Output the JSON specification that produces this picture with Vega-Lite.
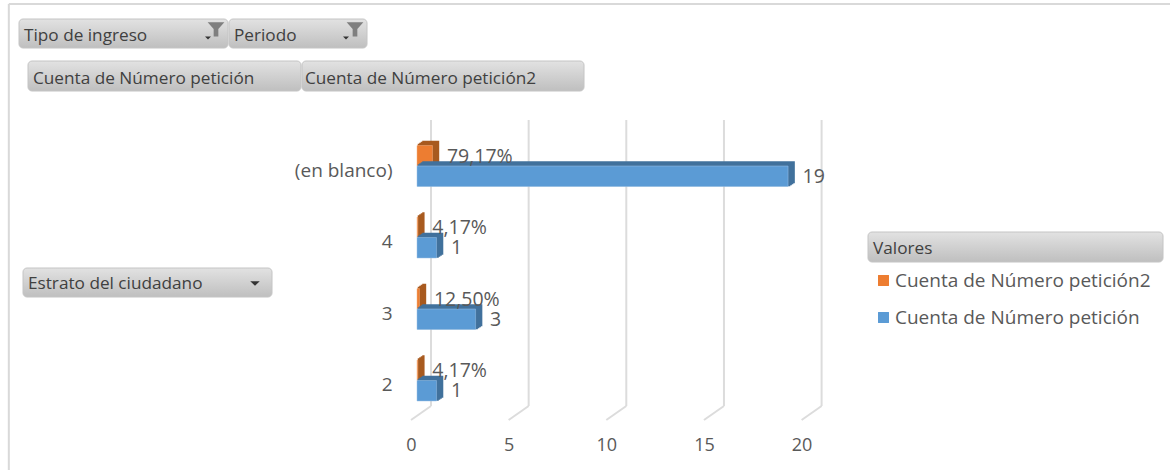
{"$schema":"https://vega.github.io/schema/vega-lite/v6.json","width":1170,"height":470,"padding":0,"autosize":"none","background":"white","config":{"view":{"stroke":null},"text":{"font":"Open Sans"}},
"datasets":{"filas":[
{"estrato":"(en blanco)","serie":"Cuenta de Número petición2","valor":0.7917,"etiqueta":"79,17%"},
{"estrato":"4","serie":"Cuenta de Número petición2","valor":0.0417,"etiqueta":"4,17%"},
{"estrato":"3","serie":"Cuenta de Número petición2","valor":0.125,"etiqueta":"12,50%"},
{"estrato":"2","serie":"Cuenta de Número petición2","valor":0.0417,"etiqueta":"4,17%"},
{"estrato":"(en blanco)","serie":"Cuenta de Número petición","valor":19,"etiqueta":"19"},
{"estrato":"4","serie":"Cuenta de Número petición","valor":1,"etiqueta":"1"},
{"estrato":"3","serie":"Cuenta de Número petición","valor":3,"etiqueta":"3"},
{"estrato":"2","serie":"Cuenta de Número petición","valor":1,"etiqueta":"1"}],
"ticks":[{"tick":0},{"tick":5},{"tick":10},{"tick":15},{"tick":20}],
"uno":[{"elemento":"controles"}]},
"resolve":{"scale":{"y":"independent"}},
"layer":[
{"data":{"name":"uno"},"layer":[
{"mark":{"type":"rule","stroke":"#d9d9d9","strokeWidth":2},"encoding":{"x":{"datum":-20.9,"type":"quantitative","title":null},"y":{"datum":4,"type":"quantitative","scale":{"domain":[470,0]},"axis":null},"y2":{"datum":470}}},
{"mark":{"type":"rule","stroke":"#d9d9d9","strokeWidth":2},"encoding":{"x":{"datum":-20.9,"type":"quantitative","title":null},"x2":{"datum":38.6},"y":{"datum":4,"type":"quantitative","scale":{"domain":[470,0]},"axis":null}}},
{"data":{"name":"ticks"},"mark":{"type":"rule","stroke":"#dcdcdc","strokeWidth":2,"xOffset":14},"encoding":{"x":{"field":"tick","type":"quantitative","title":null},"y":{"datum":120,"type":"quantitative","scale":{"domain":[470,0]},"axis":null},"y2":{"datum":406}}},
{"data":{"name":"ticks"},"mark":{"type":"rule","stroke":"#dcdcdc","strokeWidth":2,"xOffset":14,"x2Offset":-6},"encoding":{"x":{"field":"tick","type":"quantitative","title":null},"x2":{"field":"tick"},"y":{"datum":406,"type":"quantitative","scale":{"domain":[470,0]},"axis":null},"y2":{"datum":420}}},
{"mark":{"type":"rect","cornerRadius":4,"stroke":"#c4c4c4","fill":{"gradient":"linear","x1":0,"y1":0,"x2":0,"y2":1,"stops":[{"offset":0,"color":"#e2e2e2"},{"offset":1,"color":"#bfbfbf"}]}},"encoding":{"x":{"datum":-20.379,"type":"quantitative","title":null},"x2":{"datum":-9.677},"y":{"datum":19,"type":"quantitative","scale":{"domain":[470,0]},"axis":null},"y2":{"datum":48}}},
{"mark":{"type":"rect","cornerRadius":4,"stroke":"#c4c4c4","fill":{"gradient":"linear","x1":0,"y1":0,"x2":0,"y2":1,"stops":[{"offset":0,"color":"#e2e2e2"},{"offset":1,"color":"#bfbfbf"}]}},"encoding":{"x":{"datum":-9.626,"type":"quantitative","title":null},"x2":{"datum":-2.56},"y":{"datum":19,"type":"quantitative","scale":{"domain":[470,0]},"axis":null},"y2":{"datum":48}}},
{"mark":{"type":"rect","cornerRadius":4,"stroke":"#c4c4c4","fill":{"gradient":"linear","x1":0,"y1":0,"x2":0,"y2":1,"stops":[{"offset":0,"color":"#e2e2e2"},{"offset":1,"color":"#bfbfbf"}]}},"encoding":{"x":{"datum":-19.918,"type":"quantitative","title":null},"x2":{"datum":-5.94},"y":{"datum":61,"type":"quantitative","scale":{"domain":[470,0]},"axis":null},"y2":{"datum":91}}},
{"mark":{"type":"rect","cornerRadius":4,"stroke":"#c4c4c4","fill":{"gradient":"linear","x1":0,"y1":0,"x2":0,"y2":1,"stops":[{"offset":0,"color":"#e2e2e2"},{"offset":1,"color":"#bfbfbf"}]}},"encoding":{"x":{"datum":-5.888,"type":"quantitative","title":null},"x2":{"datum":8.551},"y":{"datum":61,"type":"quantitative","scale":{"domain":[470,0]},"axis":null},"y2":{"datum":91}}},
{"mark":{"type":"rect","cornerRadius":4,"stroke":"#c4c4c4","fill":{"gradient":"linear","x1":0,"y1":0,"x2":0,"y2":1,"stops":[{"offset":0,"color":"#e2e2e2"},{"offset":1,"color":"#bfbfbf"}]}},"encoding":{"x":{"datum":-20.174,"type":"quantitative","title":null},"x2":{"datum":-7.424},"y":{"datum":268,"type":"quantitative","scale":{"domain":[470,0]},"axis":null},"y2":{"datum":297}}},
{"mark":{"type":"rect","cornerRadius":4,"stroke":"#c4c4c4","fill":{"gradient":"linear","x1":0,"y1":0,"x2":0,"y2":1,"stops":[{"offset":0,"color":"#e2e2e2"},{"offset":1,"color":"#bfbfbf"}]}},"encoding":{"x":{"datum":23.093,"type":"quantitative","title":null},"x2":{"datum":38.198},"y":{"datum":232,"type":"quantitative","scale":{"domain":[470,0]},"axis":null},"y2":{"datum":262}}},
{"mark":{"type":"text","text":"Tipo de ingreso","align":"left","baseline":"middle","fontSize":17.2,"fill":"#404040"},"encoding":{"x":{"datum":-20.123,"type":"quantitative","title":null},"y":{"datum":35.5,"type":"quantitative","scale":{"domain":[470,0]},"axis":null}}},
{"mark":{"type":"text","text":"Periodo","align":"left","baseline":"middle","fontSize":17.2,"fill":"#404040"},"encoding":{"x":{"datum":-9.37,"type":"quantitative","title":null},"y":{"datum":35.5,"type":"quantitative","scale":{"domain":[470,0]},"axis":null}}},
{"mark":{"type":"text","text":"Cuenta de Número petición","align":"left","baseline":"middle","fontSize":17.2,"fill":"#404040"},"encoding":{"x":{"datum":-19.662,"type":"quantitative","title":null},"y":{"datum":78.5,"type":"quantitative","scale":{"domain":[470,0]},"axis":null}}},
{"mark":{"type":"text","text":"Cuenta de Número petición2","align":"left","baseline":"middle","fontSize":17.2,"fill":"#404040"},"encoding":{"x":{"datum":-5.735,"type":"quantitative","title":null},"y":{"datum":78.5,"type":"quantitative","scale":{"domain":[470,0]},"axis":null}}},
{"mark":{"type":"text","text":"Estrato del ciudadano","align":"left","baseline":"middle","fontSize":17.2,"fill":"#404040"},"encoding":{"x":{"datum":-19.918,"type":"quantitative","title":null},"y":{"datum":284,"type":"quantitative","scale":{"domain":[470,0]},"axis":null}}},
{"mark":{"type":"text","text":"Valores","align":"left","baseline":"middle","fontSize":17.2,"fill":"#404040"},"encoding":{"x":{"datum":23.349,"type":"quantitative","title":null},"y":{"datum":249,"type":"quantitative","scale":{"domain":[470,0]},"axis":null}}},
{"mark":{"type":"point","shape":"M-1,-0.8L1,-0.8L0.28,0L0.28,0.9L-0.28,0.9L-0.28,0Z","filled":true,"fill":"#7f7f7f","opacity":1,"size":280},"encoding":{"x":{"datum":-10.292,"type":"quantitative","title":null},"y":{"datum":29,"type":"quantitative","scale":{"domain":[470,0]},"axis":null}}},
{"mark":{"type":"point","shape":"M-1,-0.8L1,-0.8L0.28,0L0.28,0.9L-0.28,0.9L-0.28,0Z","filled":true,"fill":"#7f7f7f","opacity":1,"size":280},"encoding":{"x":{"datum":-3.175,"type":"quantitative","title":null},"y":{"datum":29,"type":"quantitative","scale":{"domain":[470,0]},"axis":null}}},
{"mark":{"type":"point","shape":"M-1,-0.5L1,-0.5L0,0.5Z","filled":true,"fill":"#333333","opacity":1,"size":36},"encoding":{"x":{"datum":-10.702,"type":"quantitative","title":null},"y":{"datum":38,"type":"quantitative","scale":{"domain":[470,0]},"axis":null}}},
{"mark":{"type":"point","shape":"M-1,-0.5L1,-0.5L0,0.5Z","filled":true,"fill":"#333333","opacity":1,"size":36},"encoding":{"x":{"datum":-3.635,"type":"quantitative","title":null},"y":{"datum":38,"type":"quantitative","scale":{"domain":[470,0]},"axis":null}}},
{"mark":{"type":"point","shape":"M-1,-0.5L1,-0.5L0,0.5Z","filled":true,"fill":"#333333","opacity":1,"size":90},"encoding":{"x":{"datum":-8.295,"type":"quantitative","title":null},"y":{"datum":283.5,"type":"quantitative","scale":{"domain":[470,0]},"axis":null}}}
]},
{"data":{"name":"filas"},
"encoding":{"y":{"field":"estrato","type":"nominal","sort":["(en blanco)","4","3","2"],"title":null,"scale":{"domain":["(en blanco)","4","3","2"],"range":[130,416],"paddingInner":0.425,"paddingOuter":0.2125},"axis":{"domain":false,"ticks":false,"labelPadding":-392,"labelOffset":5,"labelFont":"Open Sans","labelFontSize":19,"labelColor":"#595959","labelLimit":200,"title":null}},
"x":{"field":"valor","type":"quantitative","title":null,"scale":{"domain":[-21.352,38.556],"nice":false,"zero":false},"axis":{"values":[0,5,10,15,20],"grid":false,"domain":false,"ticks":false,"labelPadding":-34,"labelOffset":-6,"labelFont":"Open Sans","labelFontSize":18,"labelColor":"#595959","title":null}}},
"layer":[
{"transform":[{"filter":"datum.serie === 'Cuenta de Número petición2'"}],"mark":{"type":"bar","height":20.5,"yOffset":-11,"xOffset":1.5,"x2Offset":1.5,"fill":"#a85a1f","stroke":"#a85a1f","strokeWidth":1.5}},
{"transform":[{"filter":"datum.serie === 'Cuenta de Número petición2'"}],"mark":{"type":"bar","height":20.5,"yOffset":-12,"xOffset":3,"x2Offset":3,"fill":"#a85a1f","stroke":"#a85a1f","strokeWidth":1.5}},
{"transform":[{"filter":"datum.serie === 'Cuenta de Número petición2'"}],"mark":{"type":"bar","height":20.5,"yOffset":-13,"xOffset":4.5,"x2Offset":4.5,"fill":"#a85a1f","stroke":"#a85a1f","strokeWidth":1.5}},
{"transform":[{"filter":"datum.serie === 'Cuenta de Número petición2'"}],"mark":{"type":"bar","height":20.5,"yOffset":-14,"xOffset":6,"x2Offset":6,"fill":"#a85a1f","stroke":"#a85a1f","strokeWidth":1.5}},
{"transform":[{"filter":"datum.serie === 'Cuenta de Número petición2'"}],"mark":{"type":"bar","height":20.5,"yOffset":-10,"stroke":"#f4b183","strokeWidth":0.5},"encoding":{"color":{"field":"serie","type":"nominal","scale":{"domain":["Cuenta de Número petición2","Cuenta de Número petición"],"range":["#ed7d31","#5b9bd5"]},"legend":{"orient":"none","legendX":874,"legendY":271,"title":null,"symbolType":"square","symbolSize":120,"symbolOpacity":1,"symbolStrokeWidth":0,"labelFont":"Open Sans","labelFontSize":19,"labelColor":"#595959","labelOffset":2,"rowPadding":17,"labelLimit":290}}}},
{"transform":[{"filter":"datum.serie === 'Cuenta de Número petición'"}],"mark":{"type":"bar","height":20.5,"yOffset":9.5,"xOffset":1.5,"x2Offset":1.5,"fill":"#41719c","stroke":"#41719c","strokeWidth":1.5}},
{"transform":[{"filter":"datum.serie === 'Cuenta de Número petición'"}],"mark":{"type":"bar","height":20.5,"yOffset":8.5,"xOffset":3,"x2Offset":3,"fill":"#41719c","stroke":"#41719c","strokeWidth":1.5}},
{"transform":[{"filter":"datum.serie === 'Cuenta de Número petición'"}],"mark":{"type":"bar","height":20.5,"yOffset":7.5,"xOffset":4.5,"x2Offset":4.5,"fill":"#41719c","stroke":"#41719c","strokeWidth":1.5}},
{"transform":[{"filter":"datum.serie === 'Cuenta de Número petición'"}],"mark":{"type":"bar","height":20.5,"yOffset":6.5,"xOffset":6,"x2Offset":6,"fill":"#41719c","stroke":"#41719c","strokeWidth":1.5}},
{"transform":[{"filter":"datum.serie === 'Cuenta de Número petición'"}],"mark":{"type":"bar","height":20.5,"yOffset":10.5,"stroke":"#9dc3e6","strokeWidth":0.5},"encoding":{"color":{"field":"serie","type":"nominal","scale":{"domain":["Cuenta de Número petición2","Cuenta de Número petición"],"range":["#ed7d31","#5b9bd5"]}}}},
{"transform":[{"filter":"datum.serie === 'Cuenta de Número petición2'"}],"mark":{"type":"text","align":"left","baseline":"middle","dx":14.5,"dy":-9,"fontSize":19.5,"fill":"#595959"},"encoding":{"text":{"field":"etiqueta"}}},
{"transform":[{"filter":"datum.serie === 'Cuenta de Número petición'"}],"mark":{"type":"text","align":"left","baseline":"middle","dx":14.5,"dy":11,"fontSize":19.5,"fill":"#595959"},"encoding":{"text":{"field":"etiqueta"}}}
]}
]}
